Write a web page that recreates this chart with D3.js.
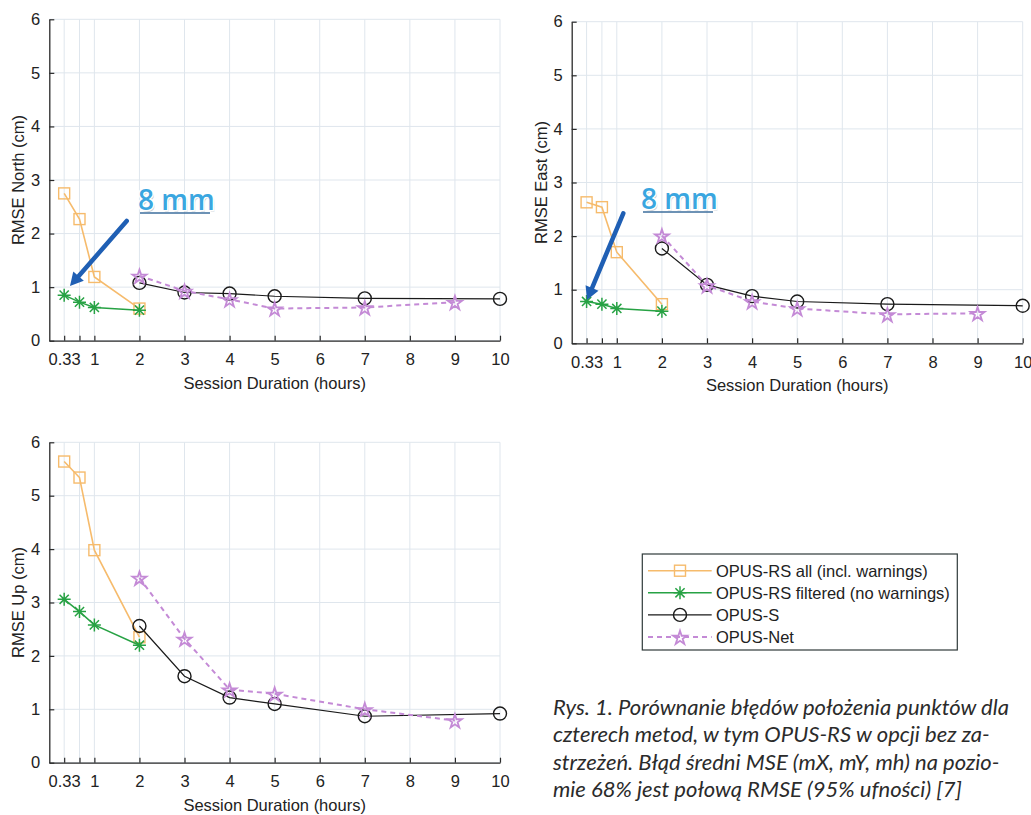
<!DOCTYPE html>
<html>
<head>
<meta charset="utf-8">
<script src="https://cdn.jsdelivr.net/npm/d3@7/dist/d3.min.js"></script>
<style>
body{margin:0;background:#fff;}
svg{display:block;}
</style>
</head>
<body>
<svg id="svg" width="1031" height="815"></svg>
<script>
// session durations (hours)
let xRS=[0.33,0.67,1,2];
let xS=[2,3,4,5,7,10];
let xNet=[2,3,4,5,7,9];
let xTicks=[0.33,0.67,1,2,3,4,5,6,7,8,9,10];
let xTickLabels=["0.33","","1","2","3","4","5","6","7","8","9","10"];
let yTicks=[0,1,2,3,4,5,6];

// RMSE North (cm)
let northAll=[2.75,2.27,1.19,0.6];
let northFilt=[0.85,0.72,0.62,0.57];
let northS=[1.08,0.9,0.88,0.83,0.79,0.78];
let northNet=[1.21,0.93,0.77,0.6,0.62,0.72];
// RMSE East (cm)
let eastAll=[2.63,2.54,1.7,0.73];
let eastFilt=[0.78,0.73,0.65,0.6];
let eastS=[1.77,1.09,0.88,0.78,0.73,0.7];
let eastNet=[2.01,1.08,0.78,0.65,0.54,0.56];
// RMSE Up (cm)
let upAll=[5.64,5.34,3.98,2.35];
let upFilt=[3.06,2.83,2.58,2.2];
let upS=[2.56,1.62,1.22,1.1,0.87,0.92];
let upNet=[3.46,2.32,1.37,1.29,1.0,0.79];

let seriesNames=["OPUS-RS all (incl. warnings)","OPUS-RS filtered (no warnings)","OPUS-S","OPUS-Net"];
let caption=["Rys. 1. Porównanie błędów położenia punktów dla","czterech metod, w tym OPUS-RS w opcji bez za-","strzeżeń. Błąd średni MSE (mX, mY, mh) na pozio-","mie 68% jest połową RMSE (95% ufności) [7]"];

const cOrange="#f6bb6c", cGreen="#27a244", cBlack="#1a1a1a", cPurple="#c48ad6", cGrid="#dfe6ed", cAxis="#2a2a2a";
const fontAx="'Liberation Sans', Arial, sans-serif";
const svg=d3.select("#svg");

const styles=[
    {color:cOrange,width:1.6,dash:null,marker:"square"},
    {color:cGreen,width:1.5,dash:null,marker:"asterisk"},
    {color:cBlack,width:1.2,dash:null,marker:"circle"},
    {color:cPurple,width:2,dash:"5,4",marker:"star"}
];

const drawMarker=function(g,type,x,y,color)
{
    if(type=="square")
    {
        g.append("rect").attr("x",x-5.5).attr("y",y-5.5).attr("width",11).attr("height",11).attr("fill","none").attr("stroke",color).attr("stroke-width",1.4);
    }
    else if(type=="circle")
    {
        g.append("circle").attr("cx",x).attr("cy",y).attr("r",6.5).attr("fill","none").attr("stroke",color).attr("stroke-width",1.4);
    }
    else if(type=="star")
    {
        g.append("path").attr("d",d3.symbol().type(d3.symbolStar).size(60)()).attr("transform","translate("+x+","+(y+1)+")").attr("fill","none").attr("stroke",color).attr("stroke-width",1.8);
    }
    else
    {
        let r=6.5, p=d3.path();
        for(let a=0;a<4;a++)
        {
            let ang=a*Math.PI/4;
            p.moveTo(x-r*Math.cos(ang),y-r*Math.sin(ang));
            p.lineTo(x+r*Math.cos(ang),y+r*Math.sin(ang));
        }
        g.append("path").attr("d",p.toString()).attr("stroke",color).attr("stroke-width",1.5).attr("fill","none");
    }
}

const drawPanel=function(x0,x1,y0,y1,yTitle,data)
{
    let x=d3.scaleLinear().domain([0,10]).range([x0,x1]);
    let y=d3.scaleLinear().domain([0,6]).range([y0,y1]);
    let g=svg.append("g");

    // grid
    g.selectAll(".vg").data(xTicks).enter().append("line").attr("x1",d=>x(d)).attr("x2",d=>x(d)).attr("y1",y0).attr("y2",y1).attr("stroke",cGrid).attr("stroke-width",1);
    g.selectAll(".hg").data(yTicks).enter().append("line").attr("x1",x0).attr("x2",x1).attr("y1",d=>y(d)).attr("y2",d=>y(d)).attr("stroke",cGrid).attr("stroke-width",1);

    let ax=g.append("g").attr("transform","translate(0,"+y0+")")
        .call(d3.axisBottom(x).tickValues(xTicks).tickFormat((d,i)=>xTickLabels[i]).tickSize(-5).tickSizeOuter(0).tickPadding(13));
    let ay=g.append("g").attr("transform","translate("+x0+",0)")
        .call(d3.axisLeft(y).tickValues(yTicks).tickFormat(d3.format("d")).tickSize(-5).tickSizeOuter(0).tickPadding(9));
    [ax,ay].forEach(a=>{
        a.select(".domain").attr("stroke",cAxis).attr("stroke-width",1.3);
        a.selectAll(".tick line").attr("stroke",cAxis).attr("stroke-width",1.2);
        a.selectAll("text").style("font-family",fontAx).style("font-size","16.5px").attr("fill","#222");
    });

    g.append("text").attr("x",(x0+x1)/2).attr("y",y0+48).attr("text-anchor","middle").style("font-family",fontAx).style("font-size","16.5px").attr("fill","#222").text("Session Duration (hours)");
    g.append("text").attr("transform","translate("+(x0-25)+","+((y0+y1)/2)+") rotate(-90)").attr("text-anchor","middle").style("font-family",fontAx).style("font-size","16.5px").attr("fill","#222").text(yTitle);

    let xs=[xRS,xRS,xS,xNet];
    let line=d3.line();
    for(let s=0;s<4;s++)
    {
        let pts=data[s].map((v,i)=>[x(xs[s][i]),y(v)]);
        let st=styles[s];
        g.append("path").attr("d",line(pts)).attr("fill","none").attr("stroke",st.color).attr("stroke-width",st.width).attr("stroke-dasharray",st.dash);
        pts.forEach(p=>drawMarker(g,st.marker,p[0],p[1],st.color));
    }
    return {x:x,y:y};
}

const drawNote=function(ax1,ay1,ax2,ay2,tx,ty)
{
    let g=svg.append("g");
    let ang=Math.atan2(ay2-ay1,ax2-ax1);
    let hl=13, hw=7;
    let bx=ax2-hl*Math.cos(ang), by=ay2-hl*Math.sin(ang);
    g.append("line").attr("x1",ax1).attr("y1",ay1).attr("x2",bx).attr("y2",by).attr("stroke","#1f5fb4").attr("stroke-width",4.5).attr("stroke-linecap","round");
    let p=d3.path();
    p.moveTo(ax2,ay2);
    p.lineTo(bx+hw*Math.sin(ang),by-hw*Math.cos(ang));
    p.lineTo(bx-hw*Math.sin(ang),by+hw*Math.cos(ang));
    p.closePath();
    g.append("path").attr("d",p.toString()).attr("fill","#1f5fb4");
    g.append("line").attr("x1",tx+2).attr("x2",tx+72).attr("y1",ty+3).attr("y2",ty+3).attr("stroke","#3c6e9c").attr("stroke-width",1.5);
    g.append("text").attr("x",tx+1.5).attr("y",ty+2).style("font-family","'Open Sans', sans-serif").style("font-size","28px").style("font-weight",600).attr("fill","#8f9aa8").attr("opacity",0.5).text("8 mm");
    g.append("text").attr("x",tx).attr("y",ty).style("font-family","'Open Sans', sans-serif").style("font-size","28px").style("font-weight",600)
        .attr("fill","#3aa6e0").attr("stroke","#ffffff").attr("stroke-width",3).style("paint-order","stroke").text("8 mm");
}

drawPanel(49.3,500,340.7,19.3,"RMSE North (cm)",[northAll,northFilt,northS,northNet]);
drawPanel(571.7,1022.7,343.3,21.7,"RMSE East (cm)",[eastAll,eastFilt,eastS,eastNet]);
drawPanel(49.3,500,762.7,442.3,"RMSE Up (cm)",[upAll,upFilt,upS,upNet]);

drawNote(126.7,221,70,286,138,210);
drawNote(623.3,213.3,587,300,641,209);

// legend
let lg=svg.append("g");
lg.append("rect").attr("x",642.3).attr("y",554).attr("width",315).attr("height",96).attr("fill","#fff").attr("stroke","#2f3a3a").attr("stroke-width",1.2);
seriesNames.forEach((name,i)=>{
    let cy=570.7+i*22.1, st=styles[i];
    lg.append("line").attr("x1",648).attr("x2",711.7).attr("y1",cy).attr("y2",cy).attr("stroke",st.color).attr("stroke-width",st.width).attr("stroke-dasharray",st.dash);
    drawMarker(lg,st.marker,680,cy,st.color);
    lg.append("text").attr("x",716).attr("y",cy+6).style("font-family",fontAx).style("font-size","16.5px").attr("fill","#222").text(name);
});

// caption
caption.forEach((t,i)=>{
    svg.append("text").attr("x",553).attr("y",715+i*27.3).style("font-family","Lato, sans-serif").style("font-style","italic").style("font-weight",400).style("font-size","22px").attr("fill","#2b2b2b").text(t);
});
</script>
</body>
</html>
